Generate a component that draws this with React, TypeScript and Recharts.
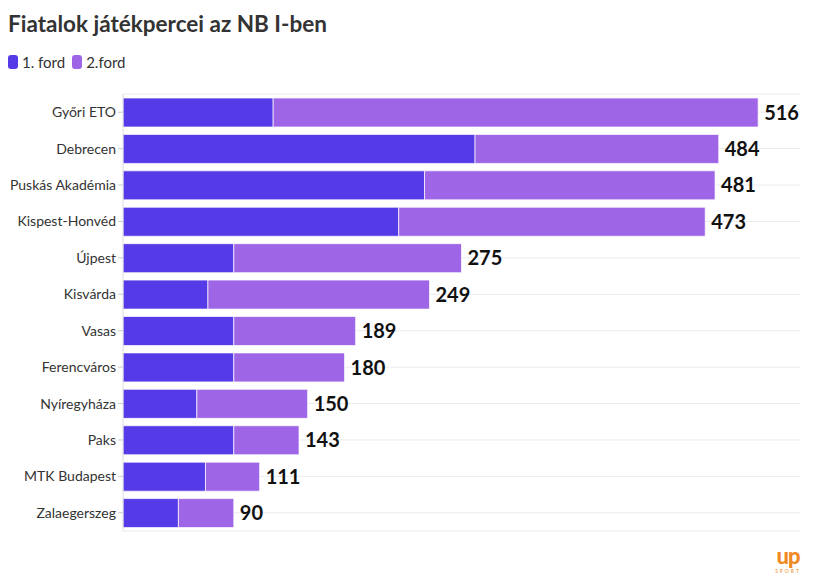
import { BarChart, Bar, XAxis, YAxis, CartesianGrid, LabelList } from "recharts";

const teams = [
  "Győri ETO",
  "Debrecen",
  "Puskás Akadémia",
  "Kispest-Honvéd",
  "Újpest",
  "Kisvárda",
  "Vasas",
  "Ferencváros",
  "Nyíregyháza",
  "Paks",
  "MTK Budapest",
  "Zalaegerszeg",
];
const firstRound = [122, 286, 245, 224, 90, 69, 90, 90, 60, 90, 67, 45];
const secondRound = [394, 198, 236, 249, 185, 180, 99, 90, 90, 53, 44, 45];

const FIRST = "#553be8";
const SECOND = "#9e65e6";
const FONT = "Lato, 'Open Sans', sans-serif";

const rows = teams.map((team, i) => ({
  team,
  first: firstRound[i],
  second: secondRound[i],
  total: firstRound[i] + secondRound[i],
}));

function LegendItem({ color, label }: { color: string; label: string }) {
  return (
    <span style={{ display: "inline-flex", alignItems: "center", marginRight: 7 }}>
      <span
        style={{
          width: 10,
          height: 14,
          borderRadius: 3,
          background: color,
          marginRight: 4,
          display: "inline-block",
        }}
      />
      {label}
    </span>
  );
}

export default function App() {
  return (
    <div
      style={{
        position: "absolute",
        left: 0,
        top: 0,
        width: 813,
        height: 587,
        background: "#fff",
        fontFamily: FONT,
        color: "#333",
      }}
    >
      <div style={{ position: "absolute", left: 8, top: 10, fontSize: 22.5, fontWeight: 700 }}>
        Fiatalok játékpercei az NB I-ben
      </div>
      <div style={{ position: "absolute", left: 8, top: 53, fontSize: 15 }}>
        <LegendItem color={FIRST} label="1. ford" />
        <LegendItem color={SECOND} label="2.ford" />
      </div>
      <div style={{ position: "absolute", left: 0, top: 0 }}>
        <BarChart
          width={813}
          height={587}
          data={rows}
          layout="vertical"
          margin={{ top: 94, right: 13, bottom: 56, left: 0 }}
        >
          <CartesianGrid horizontal vertical={false} stroke="#ebebeb" />
          <XAxis type="number" domain={[0, 550]} hide />
          <YAxis
            type="category"
            dataKey="team"
            width={123}
            axisLine={{ stroke: "#ddd" }}
            tickLine={{ stroke: "#ccc" }}
            tickSize={5}
            tick={{ fill: "#333", fontSize: 14, fontFamily: FONT }}
            interval={0}
          />
          <Bar
            dataKey="first"
            stackId="a"
            fill={FIRST}
            stroke="#fff"
            strokeOpacity={0.7}
            barSize={29}
            isAnimationActive={false}
          />
          <Bar
            dataKey="second"
            stackId="a"
            fill={SECOND}
            stroke="#fff"
            strokeOpacity={0.7}
            barSize={29}
            isAnimationActive={false}
          >
            <LabelList
              dataKey="total"
              position="right"
              offset={6}
              fill="#111"
              fontSize={20}
              fontWeight={700}
              fontFamily={FONT}
            />
          </Bar>
        </BarChart>
      </div>
      <div
        style={{
          position: "absolute",
          left: 772,
          top: 545,
          width: 32,
          textAlign: "center",
          color: "#f08a24",
          lineHeight: 1,
        }}
      >
        <div style={{ fontSize: 22, fontWeight: 900, letterSpacing: -1 }}>up</div>
        <div style={{ fontSize: 5, letterSpacing: 2, marginTop: 2 }}>SPORT</div>
      </div>
    </div>
  );
}
